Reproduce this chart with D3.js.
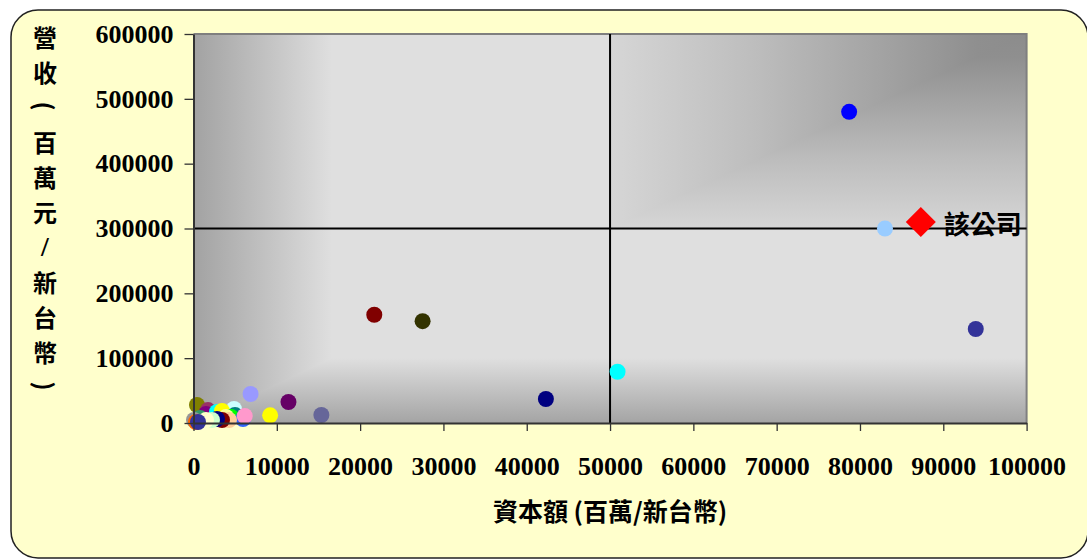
<!DOCTYPE html>
<html>
<head>
<meta charset="utf-8">
<script src="https://cdn.jsdelivr.net/npm/d3@7"></script>
<style>
  body { margin: 0; background: #fff; }
</style>
</head>
<body>
<div id="chart"></div>
<script>
// values (capital / revenue, millions NTD)
var capital = [78700, 83000, 93900, 21700, 27500, 50900, 42300, 15350, 11400, 9200,
               6850, 4860, 420, 1740, 1500, 2820, 3420, 4980, 4500, 3900,
               5940, 6150, 780, 4260, 3420, 2820, 2220, 1500, 60, 300, 540];
var revenue = [480000, 300000, 145000, 167000, 157000, 79000, 37000, 12300, 32400, 11800,
               44700, 21600, 27800, 20000, 13900, 17000, 18500, 12300, 9250, 9250,
               6200, 10800, 7700, 4600, 4600, 6200, 4600, 4600, 4600, 1500, 1500];
var pointColors = ["#0000FF", "#99CCFF", "#333399", "#800000", "#333300", "#00FFFF", "#000080", "#666699", "#660066", "#FFFF00",
                   "#9999FF", "#CCFFFF", "#808000", "#993366", "#800080", "#00FFFF", "#FFFF00", "#008080", "#00FF00", "#FFFF99",
                   "#3366FF", "#FF99CC", "#339966", "#FFCC99", "#800000", "#000080", "#CCFFCC", "#FFFFCC", "#969696", "#FF6600", "#333399"];

var companyName = "該公司";
var companyCapital = [87300];
var companyRevenue = [310000];

var xTicks = [0, 10000, 20000, 30000, 40000, 50000, 60000, 70000, 80000, 90000, 100000];
var yTicks = [0, 100000, 200000, 300000, 400000, 500000, 600000];
var refCapital = 50000, refRevenue = 300000;

var yTitle = ["營", "收", "(", "百", "萬", "元", "/", "新", "台", "幣", ")"];
var xTitle = "資本額 (百萬/新台幣)";

var W = 1087, H = 559;
var pLeft = 193.5, pRight = 1026.6, pTop = 34, pBottom = 423;

var svg = d3.select("#chart").append("svg")
    .attr("width", W)
    .attr("height", H);

// outer rounded frame
svg.append("rect")
    .attr("x", 11).attr("y", 10)
    .attr("width", 1077).attr("height", 548)
    .attr("rx", 27).attr("ry", 27)
    .attr("fill", "#FFFFCC")
    .attr("stroke", "#222")
    .attr("stroke-width", 1.5);

var x = d3.scaleLinear().domain([0, 100000]).range([pLeft, pRight]);
var y = d3.scaleLinear().domain([0, 600000]).range([pBottom, pTop]);

// plot background gradients
var defs = svg.append("defs");
function grad(id, x1, y1, x2, y2, stops) {
  var g = defs.append("linearGradient").attr("id", id)
      .attr("gradientUnits", "userSpaceOnUse")
      .attr("x1", x1).attr("y1", y1).attr("x2", x2).attr("y2", y2);
  stops.forEach(function (s) {
    g.append("stop").attr("offset", s[0]).attr("stop-color", s[1]);
  });
}
var xm = x(refCapital), ym = y(refRevenue);
var light = "#dfdfdf";
var cornerStops = [[0, "#d6d6d6"], [0.35, "#bdbdbd"], [0.88, "#8f8f8f"], [1, "#8c8c8c"]];
grad("leftBand", pLeft, 0, 332, 0, [[0, "#a2a2a2"], [1, light]]);
grad("bottomBand", 0, pBottom, 0, 358, [[0, "#a4a4a4"], [1, light]]);
grad("urTop", xm, 0, pRight, 0, cornerStops);
grad("urSide", 0, ym, 0, pTop, cornerStops);

var bg = svg.append("g");
bg.append("rect")
    .attr("x", pLeft).attr("y", pTop)
    .attr("width", pRight - pLeft).attr("height", pBottom - pTop)
    .attr("fill", light);
bg.append("rect")
    .attr("x", pLeft).attr("y", 358)
    .attr("width", pRight - pLeft).attr("height", pBottom - 358)
    .attr("fill", "url(#bottomBand)");
bg.append("polygon")
    .attr("points", [[pLeft, pTop], [332, pTop], [332, 358], [pLeft, pBottom]].join(" "))
    .attr("fill", "url(#leftBand)");
bg.append("rect")
    .attr("x", xm).attr("y", pTop)
    .attr("width", pRight - xm).attr("height", ym - pTop)
    .attr("fill", "url(#urSide)");
bg.append("polygon")
    .attr("points", [[xm, pTop], [pRight, pTop], [xm, ym]].join(" "))
    .attr("fill", "url(#urTop)");

// plot border top / right
svg.append("path")
    .attr("d", "M" + pLeft + "," + pTop + "H" + pRight + "V" + pBottom)
    .attr("fill", "none")
    .attr("stroke", "#7f7f7f")
    .attr("stroke-width", 2);

// reference lines
svg.append("line")
    .attr("x1", x(refCapital)).attr("x2", x(refCapital))
    .attr("y1", pTop).attr("y2", pBottom)
    .attr("stroke", "#000").attr("stroke-width", 2);
svg.append("line")
    .attr("x1", pLeft).attr("x2", pRight)
    .attr("y1", y(refRevenue)).attr("y2", y(refRevenue))
    .attr("stroke", "#000").attr("stroke-width", 2);

// points
svg.append("g")
  .selectAll("circle")
  .data(capital)
  .enter()
  .append("circle")
    .attr("cx", function (d) { return x(d); })
    .attr("cy", function (d, i) { return y(revenue[i]); })
    .attr("r", 8)
    .style("fill", function (d, i) { return pointColors[i]; });

// the company
svg.append("g")
  .selectAll("path")
  .data(companyCapital)
  .enter()
  .append("path")
    .attr("d", d3.symbol().type(d3.symbolSquare).size(450))
    .attr("transform", function (d, i) {
      return "translate(" + x(d) + "," + y(companyRevenue[i]) + ")rotate(45)";
    })
    .style("fill", "#ff0000");
svg.append("text")
    .attr("x", x(companyCapital[0]) + 23)
    .attr("y", y(companyRevenue[0]) + 12)
    .style("font-family", "'Noto Sans CJK TC'")
    .style("font-weight", "bold")
    .style("font-size", "26px")
    .text(companyName);

// axes
var xAxis = svg.append("g")
    .attr("transform", "translate(0," + pBottom + ")")
    .call(d3.axisBottom(x).tickValues(xTicks).tickFormat(d3.format("d"))
      .tickSize(8).tickSizeOuter(0).tickPadding(26));
var yAxis = svg.append("g")
    .attr("transform", "translate(" + pLeft + ",0)")
    .call(d3.axisLeft(y).tickValues(yTicks).tickFormat(d3.format("d"))
      .tickSize(9).tickSizeOuter(0).tickPadding(11));

[xAxis, yAxis].forEach(function (a) {
  a.select(".domain").attr("stroke", "#333").attr("stroke-width", 2);
  a.selectAll(".tick line").attr("stroke", "#333").attr("stroke-width", 1.3);
  a.selectAll("text")
    .style("font-family", "'Liberation Serif'")
    .style("font-weight", "bold")
    .style("font-size", "26px")
    .attr("fill", "#000");
});

// titles (vertical, parentheses turned sideways)
svg.append("g")
  .selectAll("text")
  .data(yTitle)
  .enter()
  .append("text")
    .attr("transform", function (d, i) {
      var t = "translate(45," + (36 + i * 35) + ")";
      return (d === "(" || d === ")") ? t + "rotate(90)" : t;
    })
    .attr("text-anchor", "middle")
    .attr("dominant-baseline", "central")
    .style("font-family", function (d) { return d === "/" ? "'Liberation Serif'" : "'Noto Sans CJK TC'"; })
    .style("font-weight", "bold")
    .style("font-size", function (d) { return d === "/" ? "28px" : "24px"; })
    .text(function (d) { return d; });

svg.append("text")
    .attr("x", (pLeft + pRight) / 2)
    .attr("y", 521)
    .attr("text-anchor", "middle")
    .style("font-family", "'Noto Sans CJK TC'")
    .style("font-weight", "bold")
    .style("font-size", "25px")
    .text(xTitle);
</script>
</body>
</html>
